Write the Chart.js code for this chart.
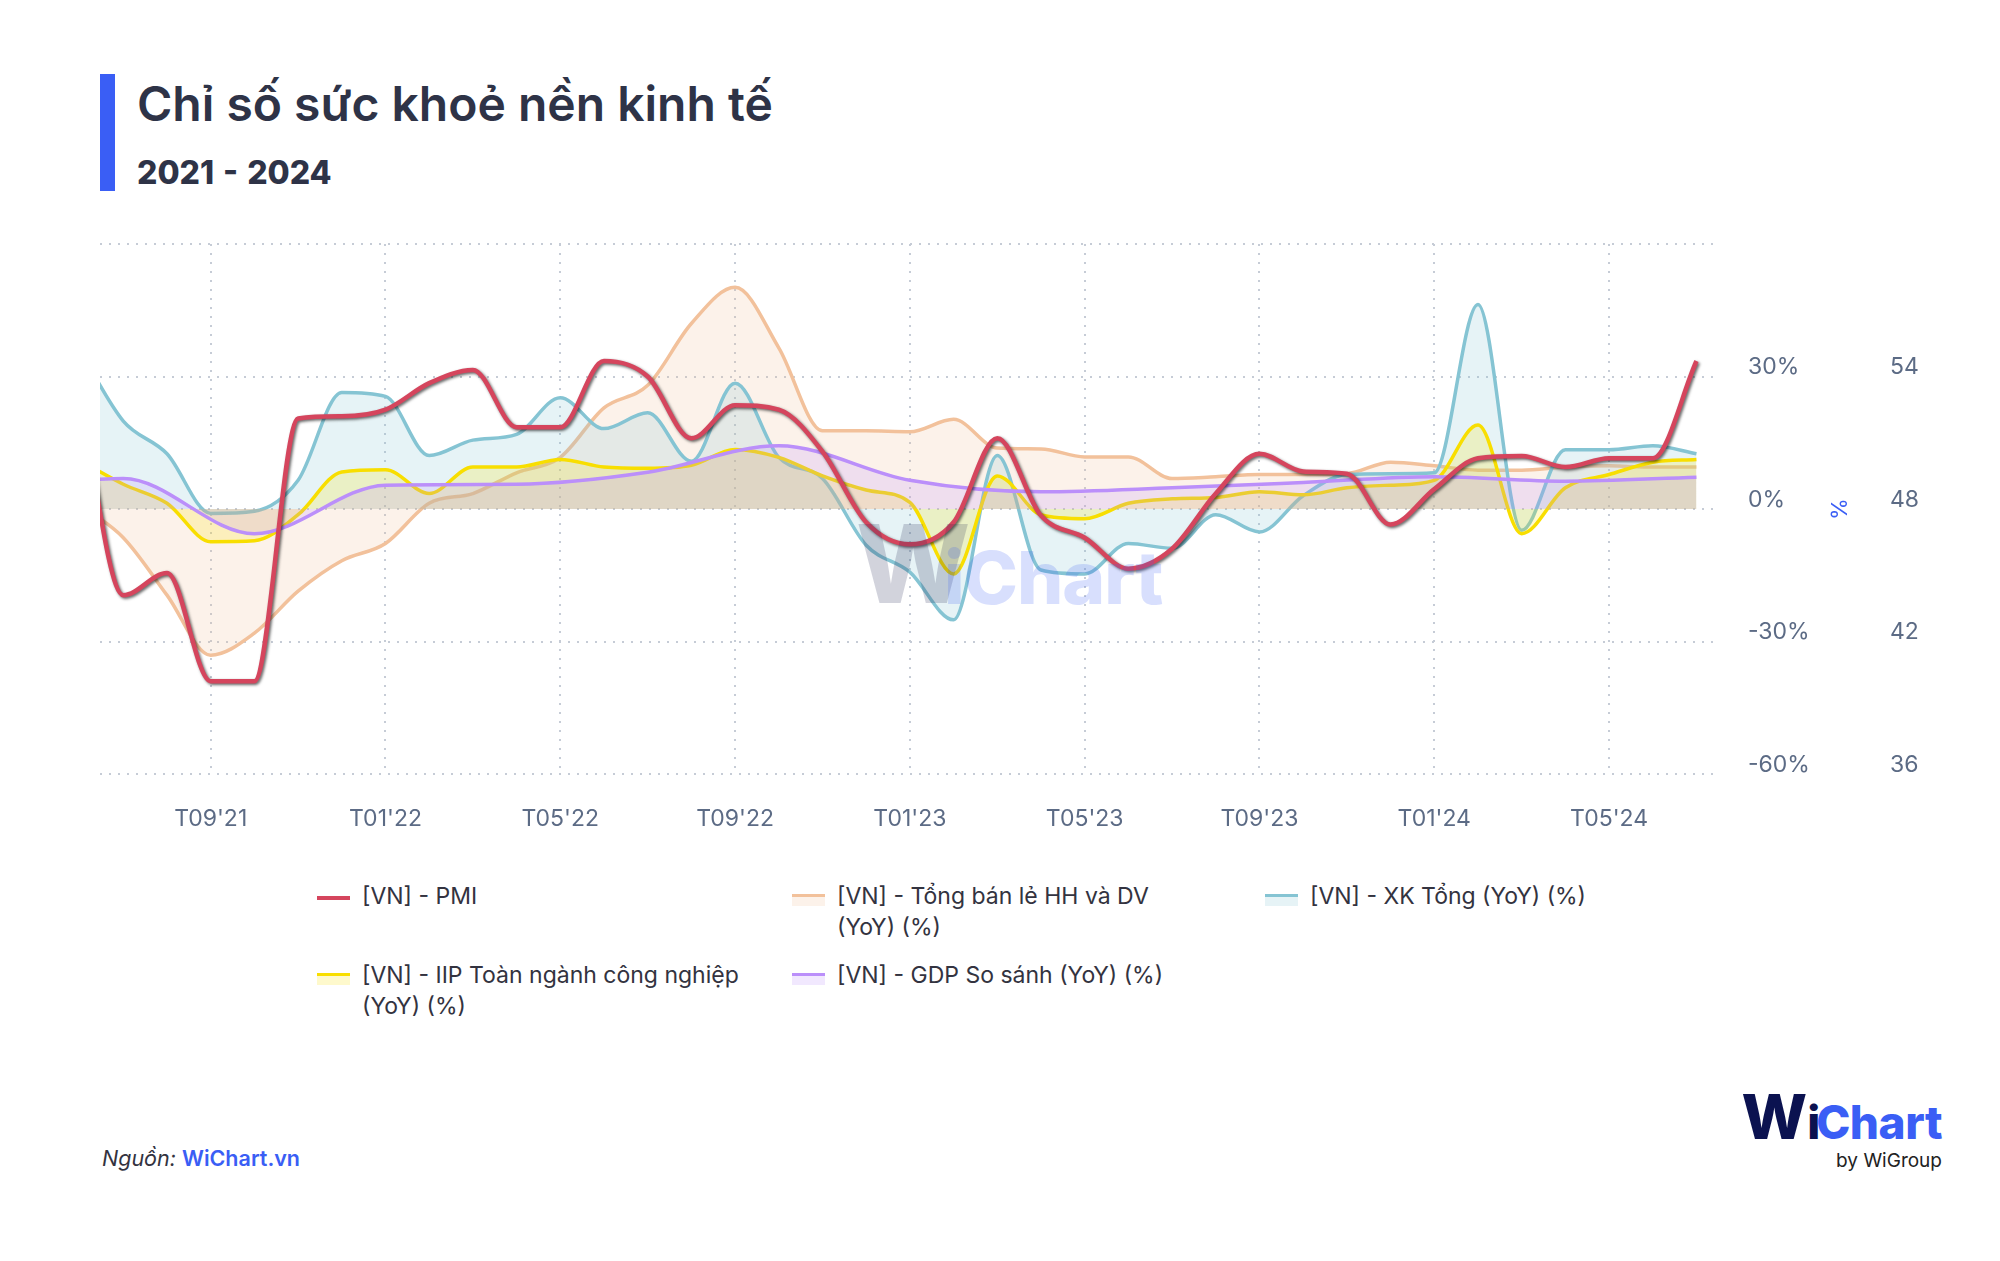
<!DOCTYPE html>
<html lang="vi">
<head>
<meta charset="utf-8">
<title>Chỉ số sức khoẻ nền kinh tế</title>
<script src="https://cdn.jsdelivr.net/npm/chart.js@4.4.1/dist/chart.umd.min.js"></script>
<style>
    html, body { margin: 0; padding: 0; background: #fff; }
    body { width: 2000px; height: 1261px; position: relative; overflow: hidden; font-family: Inter, 'Noto Sans', sans-serif; }
    .bar { position: absolute; left: 100px; top: 74px; width: 15px; height: 117px; background: #3a5ef5; }
    .title { position: absolute; left: 137px; top: 80px; font-size: 48px; line-height: 48px; font-weight: 600; color: #2e3347; white-space: nowrap; }
    .subtitle { position: absolute; left: 137px; top: 157px; font-size: 32px; line-height: 32px; font-weight: 800; color: #2e3347; word-spacing: 2px; }
    #chartBox { position: absolute; left: 0; top: 0; width: 2000px; height: 860px; }
    .wm { position: absolute; line-height: 1; font-weight: 800; pointer-events: none; white-space: nowrap; }
    .legend-item { position: absolute; font-size: 23px; line-height: 31px; color: #333340; white-space: pre-line; }
    .legend-item .sw { position: absolute; left: -45px; width: 33px; }
    .source { position: absolute; left: 102px; top: 1146px; font-size: 21.5px; line-height: 24px; color: #333340; }
    .source i { font-style: italic; }
    .source b { color: #3a5ef5; font-weight: 600; }
    .logo { position: absolute; right: 58px; top: 1086px; line-height: 1; font-weight: 800; white-space: nowrap; }
    .byline { position: absolute; right: 58px; top: 1151px; font-size: 19px; line-height: 20px; color: #222; }
</style>
</head>
<body>
<div class="bar"></div>
<div class="title">Chỉ số sức khoẻ nền kinh tế</div>
<div class="subtitle">2021 - 2024</div>

<div id="chartBox"><canvas id="healthChart"></canvas></div>

<!-- watermark giữa biểu đồ -->
<div class="wm" style="left:856px; top:510px; font-size:108px; color:rgba(30,35,80,0.2);">W</div>
<div class="wm" style="left:944px; top:541px; font-size:73px; color:rgba(59,95,245,0.2); letter-spacing:-1px;">iChart</div>

<div id="legend"></div>

<div class="source"><i>Nguồn:</i> <b>WiChart.vn</b></div>
<div class="logo"><span style="font-size:62px; color:#0b1250;">W</span><span style="font-size:46px; color:#0b1250; letter-spacing:-4px;">i</span><span style="font-size:46px; color:#3a5ef5; letter-spacing:-0.5px;">Chart</span></div>
<div class="byline">by WiGroup</div>

<script>
// ===============================
// Dữ liệu
// ===============================
// Số liệu theo tháng, mỗi điểm đặt ở cuối tháng.
const months = [
    '05/2021', '06/2021', '07/2021', '08/2021', '09/2021', '10/2021', '11/2021', '12/2021',
    '01/2022', '02/2022', '03/2022', '04/2022', '05/2022', '06/2022', '07/2022', '08/2022', '09/2022', '10/2022', '11/2022', '12/2022',
    '01/2023', '02/2023', '03/2023', '04/2023', '05/2023', '06/2023', '07/2023', '08/2023', '09/2023', '10/2023', '11/2023', '12/2023',
    '01/2024', '02/2024', '03/2024', '04/2024', '05/2024', '06/2024'
];
const pmi = [
    53.1, 44.1, 45.1, 40.2, 40.2, 52.1, 52.2, 52.5,
    53.7, 54.3, 51.7, 51.7, 54.7, 54.0, 51.2, 52.7, 52.5, 50.6, 47.4, 46.4,
    47.4, 51.2, 47.7, 46.7, 45.3, 46.2, 48.7, 50.5, 49.7, 49.6, 47.3, 48.9,
    50.3, 50.4, 49.9, 50.3, 50.3, 54.7
];
const retailYoY = [
    1.0, -6.5, -19.5, -33.1, -28.1, -18.6, -11.7, -7.8,
    1.3, 3.5, 8.2, 11.7, 22.9, 28.0, 42.0, 50.2, 36.5, 17.7, 17.7, 17.5,
    20.3, 13.8, 13.6, 11.8, 11.8, 6.9, 7.3, 7.8, 7.8, 8.0, 10.6, 9.8,
    8.8, 8.8, 9.5, 9.8, 9.5, 9.5
];
const exportYoY = [
    36.0, 19.9, 12.5, -1.0, -0.5, 6.5, 26.4, 25.5,
    12.1, 15.6, 16.9, 25.2, 18.2, 21.8, 10.8, 28.5, 11.7, 6.9, -8.2, -14.3,
    -25.1, 12.1, -13.8, -14.7, -7.8, -8.9, -1.3, -5.2, 3.0, 7.8, 8.0, 8.2,
    46.3, -4.8, 13.4, 13.4, 14.3, 12.5
];
const iipYoY = [
    11.0, 5.6, 1.3, -7.4, -7.2, -1.3, 8.4, 8.9,
    3.5, 9.5, 9.5, 11.2, 9.5, 9.2, 9.9, 13.5, 11.7, 7.5, 4.3, 1.5,
    -14.7, 7.5, -1.3, -2.2, 1.3, 2.3, 2.6, 3.9, 3.2, 4.8, 5.4, 6.5,
    19.0, -5.6, 4.8, 7.8, 10.6, 11.2
];
// GDP theo quý, điểm đặt ở cuối quý
const quarters = [
    'Q1/2021', 'Q2/2021', 'Q3/2021', 'Q4/2021', 'Q1/2022', 'Q2/2022', 'Q3/2022',
    'Q4/2022', 'Q1/2023', 'Q2/2023', 'Q3/2023', 'Q4/2023', 'Q1/2024', 'Q2/2024'
];
const gdpYoY = [4.5, 6.9, -5.6, 5.4, 5.6, 8.3, 14.3, 6.5, 3.9, 4.8, 6.0, 7.3, 6.3, 7.2];

const xTickLabels = ["T09'21", "T01'22", "T05'22", "T09'22", "T01'23", "T05'23", "T09'23", "T01'24", "T05'24"];

const seriesNames = [
    '[VN] - PMI',
    '[VN] - Tổng bán lẻ HH và DV\n(YoY) (%)',
    '[VN] - XK Tổng (YoY) (%)',
    '[VN] - IIP Toàn ngành công nghiệp\n(YoY) (%)',
    '[VN] - GDP So sánh (YoY) (%)'
];

// ===============================
// Vị trí trên trục thời gian (số tháng kể từ 01/2021)
// ===============================
function monthEnd(label) {
    const [m, y] = label.split('/').map(Number);
    return (y - 2021) * 12 + m;
}
function quarterEnd(label) {
    const [q, y] = label.slice(1).split('/').map(Number);
    return (y - 2021) * 12 + q * 3;
}
function tickPos(label) {
    const m = Number(label.slice(1, 3));
    const y = 2000 + Number(label.slice(4));
    return (y - 2021) * 12 + m - 1;
}
const monthly = values => months.map((m, i) => ({ x: monthEnd(m), y: values[i] }));

const TICK_COLOR = '#5c6b85';
const GRID_COLOR = '#c6ccd6';
const tickFont = { family: 'Inter', size: 23 };

// Bóng đổ cho đường PMI
const lineShadow = {
    id: 'lineShadow',
    beforeDatasetDraw(chart, args) {
        if (!chart.data.datasets[args.index].shadow) return;
        const ctx = chart.ctx;
        ctx.save();
        ctx.shadowColor = 'rgba(0,0,0,0.6)';
        ctx.shadowBlur = 3;
        ctx.shadowOffsetX = 1.5;
        ctx.shadowOffsetY = 1.5;
    },
    afterDatasetDraw(chart, args) {
        if (chart.data.datasets[args.index].shadow) chart.ctx.restore();
    }
};

const series = [
    { label: seriesNames[0], data: monthly(pmi), yAxisID: 'y1', borderColor: '#d5455d', borderWidth: 4.5, fill: false, order: 0, shadow: true, swatch: ['#d5455d', null] },
    { label: seriesNames[1], data: monthly(retailYoY), yAxisID: 'y', borderColor: '#f2c19b', backgroundColor: 'rgba(240,190,150,0.2)', borderWidth: 3.5, fill: 'origin', order: 4, swatch: ['#f2c19b', '#fcf2ea'] },
    { label: seriesNames[2], data: monthly(exportYoY), yAxisID: 'y', borderColor: '#85c4d3', backgroundColor: 'rgba(128,195,210,0.2)', borderWidth: 3.5, fill: 'origin', order: 3, swatch: ['#85c4d3', '#e6f3f6'] },
    { label: seriesNames[3], data: monthly(iipYoY), yAxisID: 'y', borderColor: '#f8de00', backgroundColor: 'rgba(250,225,0,0.2)', borderWidth: 3.5, fill: 'origin', order: 2, swatch: ['#f8de00', '#fef9cc'] },
    { label: seriesNames[4], data: quarters.map((q, i) => ({ x: quarterEnd(q), y: gdpYoY[i] })), yAxisID: 'y', borderColor: '#bb8ffa', backgroundColor: 'rgba(185,140,250,0.2)', borderWidth: 3.5, fill: 'origin', order: 1, swatch: ['#bb8ffa', '#f1e8fe'] }
];

function buildLegend() {
    const box = document.getElementById('legend');
    const cols = [362, 837, 1310];
    const rows = [881, 960];
    series.forEach((s, i) => {
        const item = document.createElement('div');
        item.className = 'legend-item';
        item.style.left = cols[i % 3] + 'px';
        item.style.top = rows[Math.floor(i / 3)] + 'px';
        item.textContent = s.label;
        const sw = document.createElement('span');
        sw.className = 'sw';
        if (s.swatch[1]) {
            sw.style.top = '13px';
            sw.style.height = '9px';
            sw.style.borderTop = '3px solid ' + s.swatch[0];
            sw.style.background = s.swatch[1];
        } else {
            sw.style.top = '15px';
            sw.style.height = '4px';
            sw.style.background = s.swatch[0];
        }
        item.appendChild(sw);
        box.appendChild(item);
    });
}

function drawChart() {
    const ctx = document.getElementById('healthChart').getContext('2d');
    new Chart(ctx, {
        type: 'line',
        data: {
            datasets: series.map(s => ({
                label: s.label,
                data: s.data,
                yAxisID: s.yAxisID,
                borderColor: s.borderColor,
                backgroundColor: s.backgroundColor || s.borderColor,
                borderWidth: s.borderWidth,
                fill: s.fill,
                order: s.order,
                shadow: !!s.shadow,
                cubicInterpolationMode: 'monotone',
                pointRadius: 0,
                pointHoverRadius: 0,
                clip: 0
            }))
        },
        options: {
            responsive: true,
            maintainAspectRatio: false,
            animation: false,
            events: [],
            layout: { padding: { left: 100, top: 244, right: 65, bottom: 0 } },
            plugins: { legend: { display: false }, tooltip: { enabled: false } },
            scales: {
                x: {
                    type: 'linear',
                    min: 5.467,
                    max: 42.47,
                    afterBuildTicks: scale => { scale.ticks = xTickLabels.map(l => ({ value: tickPos(l) })); },
                    afterFit: scale => { scale.height = 86; },
                    grid: { color: GRID_COLOR, lineWidth: 2, drawTicks: false },
                    border: { display: false, dash: [2, 7] },
                    ticks: {
                        autoSkip: false, maxRotation: 0, padding: 31,
                        color: TICK_COLOR, font: tickFont,
                        callback: v => xTickLabels.find(l => tickPos(l) === v) || ''
                    }
                },
                y: {
                    position: 'right',
                    min: -60,
                    max: 60,
                    afterFit: scale => { scale.width = 138; },
                    grid: { color: GRID_COLOR, lineWidth: 2, drawTicks: false },
                    border: { display: false, dash: [2, 7] },
                    ticks: {
                        stepSize: 30, padding: 31, labelOffset: -9,
                        color: TICK_COLOR, font: tickFont,
                        callback: v => v === 60 ? '' : v + '%'
                    },
                    title: { display: true, text: '%', color: '#3a5ef5', font: { family: 'Inter', size: 22 }, padding: { top: 4, bottom: 4 } }
                },
                y1: {
                    position: 'right',
                    min: 36,
                    max: 60,
                    afterFit: scale => { scale.width = 80; },
                    grid: { display: false, drawTicks: false },
                    border: { display: false },
                    ticks: {
                        stepSize: 6, padding: 35, labelOffset: -9,
                        color: TICK_COLOR, font: tickFont,
                        callback: v => v === 60 ? '' : v
                    }
                }
            }
        },
        plugins: [lineShadow]
    });
}

buildLegend();
if (document.fonts && document.fonts.load) {
    document.fonts.load('23px Inter').then(drawChart, drawChart);
} else {
    drawChart();
}
</script>
</body>
</html>
